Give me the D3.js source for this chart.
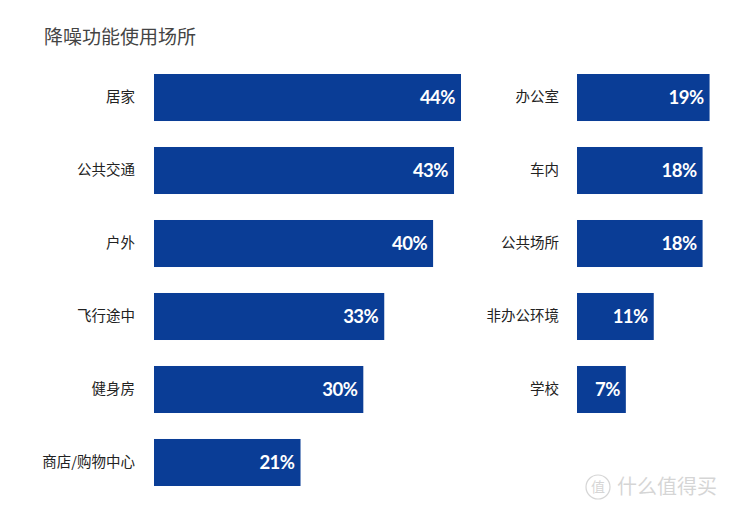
<!DOCTYPE html>
<html>
<head>
<meta charset="utf-8">
<script src="https://cdn.jsdelivr.net/npm/d3@7"></script>
<style>
  body { margin: 0; background: #fff; }
  svg { display: block; font-family: "Noto Sans CJK SC", sans-serif; }
</style>
</head>
<body>
<div id="chart"></div>
<script>
/* DATA */
const title = "降噪功能使用场所";
const leftPlaces = ["居家", "公共交通", "户外", "飞行途中", "健身房", "商店/购物中心"];
const leftValues = [44, 43, 40, 33, 30, 21];
const rightPlaces = ["办公室", "车内", "公共场所", "非办公环境", "学校"];
const rightValues = [19, 18, 18, 11, 7];

const width = 750, height = 514;
const barColor = "#0a3d96";

const svg = d3.select("#chart").append("svg")
  .attr("width", width)
  .attr("height", height);

// scales (shared by both columns)
const xScale = d3.scaleLinear().domain([0, 44]).range([0, 307]);
const yScale = d3.scaleBand()
  .domain(d3.range(6))
  .range([74, 486])
  .paddingInner(0.356)
  .paddingOuter(0);

svg.append("text")
  .attr("x", 44)
  .attr("y", 44)
  .attr("font-size", 19)
  .attr("fill", "#444")
  .text(title);

function column(places, values, x0, labelX) {
  const g = svg.append("g");
  const data = places.map((p, i) => ({ place: p, value: values[i], i }));

  g.selectAll("rect")
    .data(data)
    .join("rect")
    .attr("x", x0)
    .attr("y", d => yScale(d.i))
    .attr("width", d => xScale(d.value))
    .attr("height", yScale.bandwidth())
    .attr("fill", barColor);

  g.selectAll("text.label")
    .data(data)
    .join("text")
    .attr("class", "label")
    .attr("x", labelX)
    .attr("y", d => yScale(d.i) + yScale.bandwidth() / 2 - 1)
    .attr("dy", "0.35em")
    .attr("text-anchor", "end")
    .attr("font-size", 14.5)
    .attr("fill", "#222")
    .text(d => d.place);

  g.selectAll("text.val")
    .data(data)
    .join("text")
    .attr("class", "val")
    .attr("x", d => x0 + xScale(d.value) - 6)
    .attr("y", d => yScale(d.i) + yScale.bandwidth() / 2 + 0.5)
    .attr("dy", "0.35em")
    .attr("text-anchor", "end")
    .attr("font-family", "Lato, sans-serif")
    .attr("font-weight", "bold")
    .attr("font-size", 18.5)
    .attr("letter-spacing", "-0.5")
    .attr("fill", "#fff")
    .text(d => d.value + "%");
}

column(leftPlaces, leftValues, 154, 135);
column(rightPlaces, rightValues, 577, 559);

// watermark
const wm = svg.append("g").attr("opacity", 0.4);
wm.append("circle")
  .attr("cx", 598).attr("cy", 487).attr("r", 12)
  .attr("fill", "none").attr("stroke", "#999").attr("stroke-width", 1.2);
wm.append("text")
  .attr("x", 598).attr("y", 487).attr("dy", "0.35em")
  .attr("text-anchor", "middle").attr("font-size", 14).attr("fill", "#999")
  .text("值");
wm.append("text")
  .attr("x", 617).attr("y", 487).attr("dy", "0.35em")
  .attr("font-size", 20).attr("fill", "#999")
  .text("什么值得买");
</script>
</body>
</html>
